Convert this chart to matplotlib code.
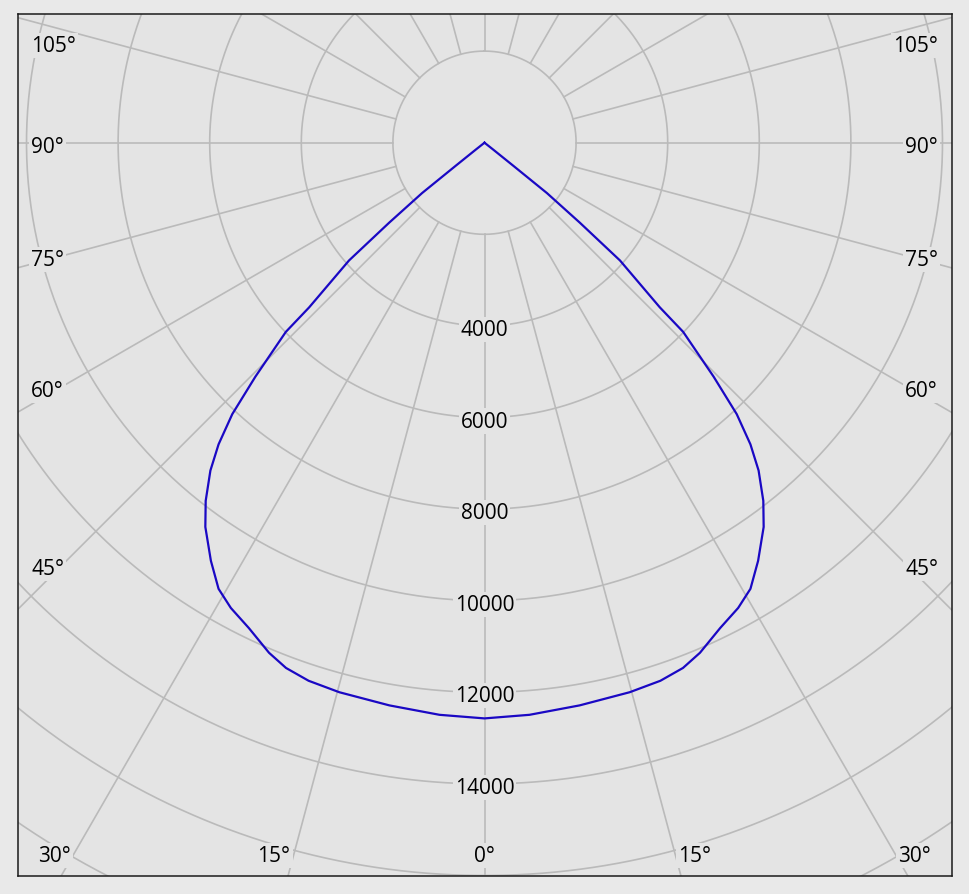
import matplotlib.pyplot as plt
import numpy as np

# luminous intensity curve (cd), angle measured from nadir, symmetric plane
gamma = [0, 4.5, 9.6, 14.8, 18.1, 20.7, 22.9, 25.9, 28.6, 30.8, 33.2, 36.0,
         37.9, 39.9, 41.4, 42.9, 44.4, 46.4, 46.8, 49.0, 50.0, 51.1, 51.3, 51.6, 90]
intensity = [12570, 12530, 12460, 12410, 12360, 12260, 12090, 11780, 11570,
             11340, 10910, 10370, 9910, 9330, 8780, 8090, 7150, 5990, 5250,
             3920, 2720, 1750, 810, 250, 0]

ring_values = list(range(2000, 26000, 2000))
ring_labels = [4000, 6000, 8000, 10000, 12000, 14000]
angle_labels = [-105, -90, -75, -60, -45, -30, -15, 0, 15, 30, 45, 60, 75, 90, 105]

outer_bg = '#e9e9e9'
inner_bg = '#e4e4e4'
grid_col = '#bababa'
curve_col = '#1a08c4'
font = ['Open Sans', 'DejaVu Sans']
fs = 15

# px per cd in the reference is about 0.0458
px = 1 / 0.0458
dy_txt = -3.5 * px   # matplotlib centres text a little high

fig = plt.figure(figsize=(9.69, 8.95), dpi=100, facecolor=outer_bg)
ax = fig.add_axes([18 / 969, 18 / 895, 934 / 969, 862 / 895])
ax.set_facecolor(inner_bg)
ax.set_xlim(-466.5 * px, 467.5 * px)
ax.set_ylim(-733.3 * px, 128.7 * px)
ax.set_xticks([])
ax.set_yticks([])
for sp in ax.spines.values():
    sp.set_color('#1a1a1a')
    sp.set_linewidth(1.1)

# rings
t = np.linspace(0, 2 * np.pi, 721)
for r in ring_values:
    ax.plot(r * np.sin(t), r * np.cos(t), color=grid_col, lw=1.2, zorder=1)

# spokes every 15 degrees, starting at the first ring
for a in range(0, 360, 15):
    th = np.radians(a)
    ax.plot([2000 * np.sin(th), 30000 * np.sin(th)],
            [-2000 * np.cos(th), -30000 * np.cos(th)],
            color=grid_col, lw=1.2, zorder=1)

# curve, mirrored to both sides
g = np.radians(np.array(gamma))
I = np.array(intensity)
ang = np.concatenate([-g[::-1], g[1:]])
val = np.concatenate([I[::-1], I[1:]])
ax.plot(val * np.sin(ang), -val * np.cos(ang), color=curve_col, lw=1.6,
        zorder=3, solid_joinstyle='round')

box = dict(facecolor=inner_bg, edgecolor='none', pad=1.5)

for r in ring_labels:
    ax.text(0, -r + dy_txt, str(r), ha='center', va='center', fontsize=fs,
            family=font, bbox=box, zorder=2)

# angle labels where the spoke meets an inset rectangle
x_in = 422.5 * px
y_in = -709.3 * px
y_top = 100.7 * px
x_txt = 453.5 * px
for a in angle_labels:
    th = np.radians(a)
    s, c = np.sin(th), np.cos(th)
    lab = '%d°' % abs(a)
    if abs(a) <= 30:
        x = y_in / -c * s
        if a < 0:
            ax.text(x - 4 * px, y_in + dy_txt, lab, ha='right', va='center',
                    fontsize=fs, family=font, bbox=box, zorder=2)
        elif a > 0:
            ax.text(x + 4 * px, y_in + dy_txt, lab, ha='left', va='center',
                    fontsize=fs, family=font, bbox=box, zorder=2)
        else:
            ax.text(0, y_in + dy_txt, lab, ha='center', va='center',
                    fontsize=fs, family=font, bbox=box, zorder=2)
    else:
        y = -c * x_in / abs(s)
        y = min(y, y_top)
        if a < 0:
            ax.text(-x_txt, y + dy_txt, lab, ha='left', va='center',
                    fontsize=fs, family=font, bbox=box, zorder=2)
        else:
            ax.text(x_txt, y + dy_txt, lab, ha='right', va='center',
                    fontsize=fs, family=font, bbox=box, zorder=2)

fig.savefig('out.png', dpi=100, facecolor=fig.get_facecolor())
